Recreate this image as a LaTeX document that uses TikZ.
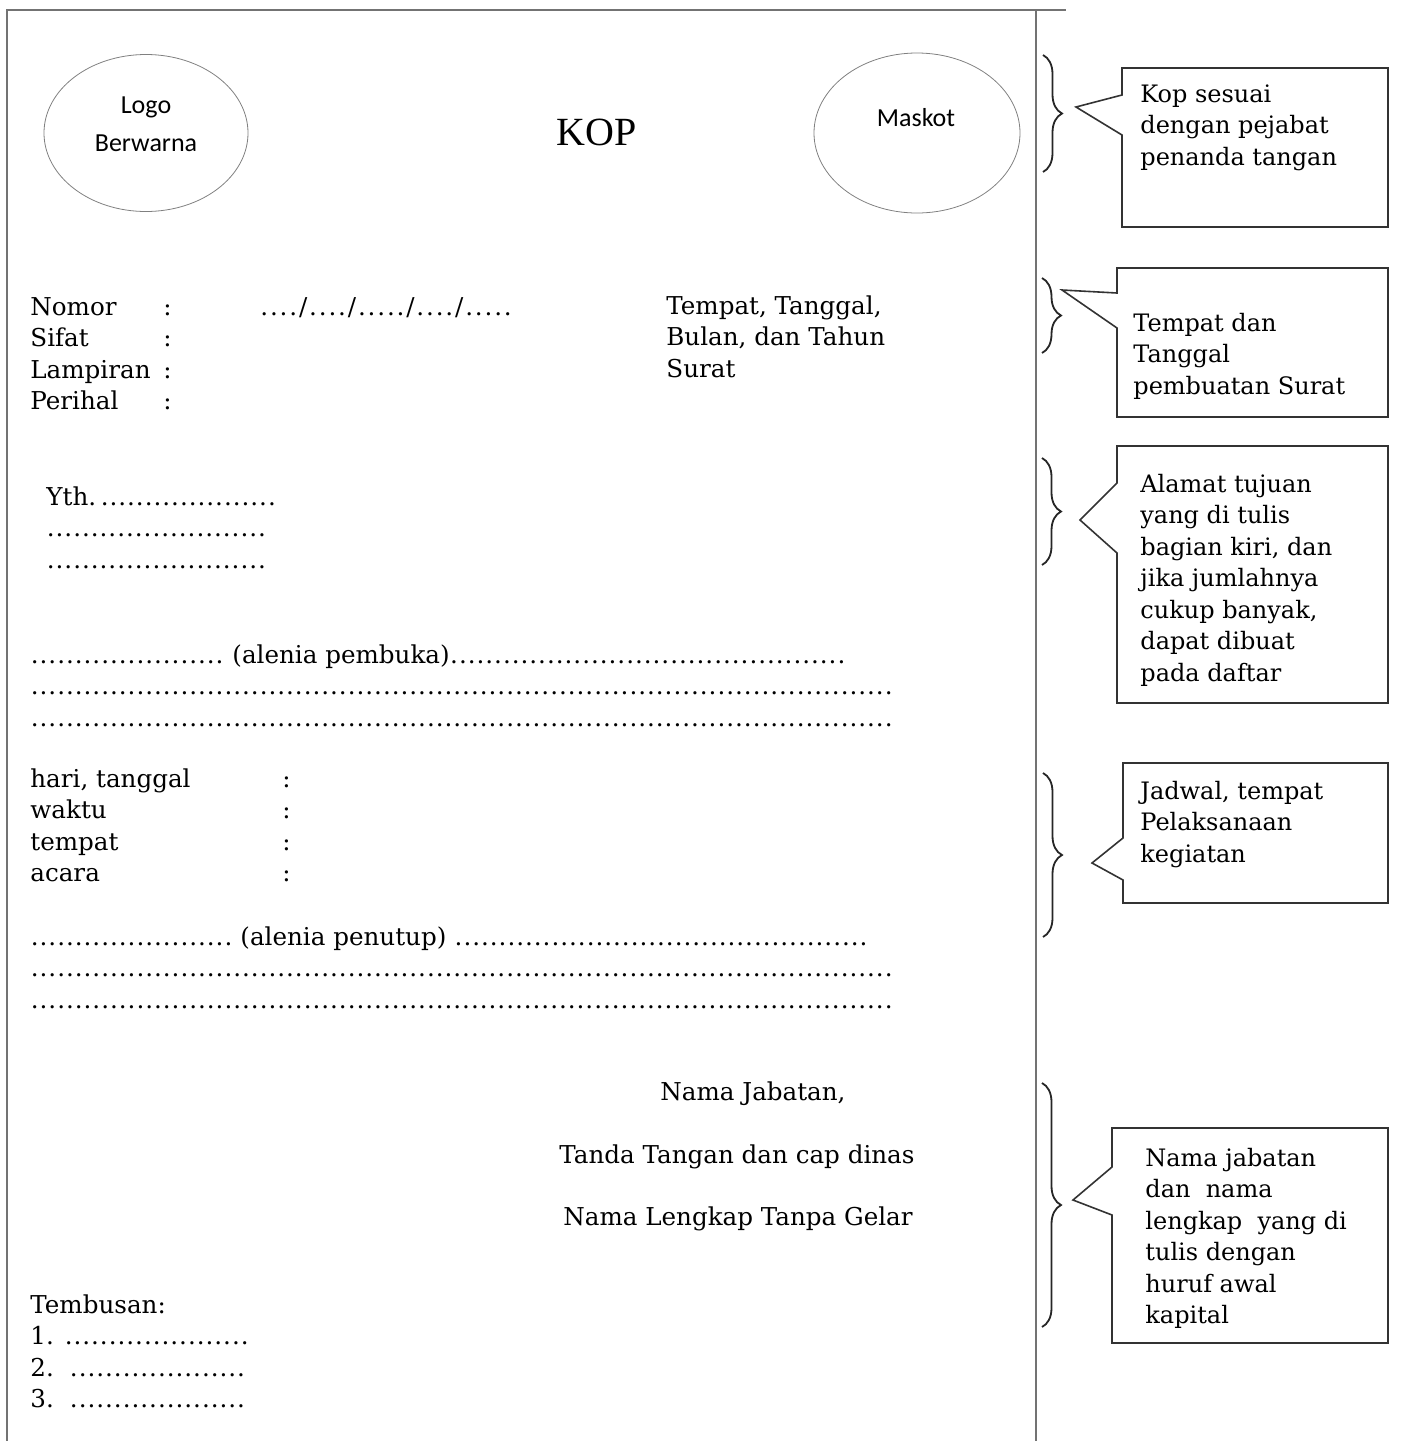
\documentclass[tikz,border=0pt]{standalone}
\usepackage{fontspec}
\setmainfont{DejaVu Serif}
\newfontfamily\kopfont{Liberation Serif}
\newfontfamily\logofont{Carlito}
\usetikzlibrary{shapes.geometric,decorations.pathreplacing}

\newcommand{\isi}{\fontsize{12.3}{15.75}\selectfont}
\newcommand{\isiket}{\fontsize{12}{15.75}\selectfont}
\newcommand{\titik}[1]{\hbox to #1{\leaders\hbox to 4.4pt{\hss.\hss}\hfill}}

\begin{document}
\begin{tikzpicture}[
    x=0.5pt, y=-0.5pt,
    halaman/.style={draw=black!55, line width=0.6pt},
    oval/.style={ellipse, draw=black!50, line width=0.4pt, inner sep=0pt},
    logoteks/.style={font=\logofont\fontsize{13}{19}\selectfont, inner sep=0pt, anchor=base},
    kop/.style={font=\kopfont\fontsize{20}{24}\selectfont, inner sep=0pt, anchor=base},
    blok/.style={font=\isi, align=left, inner sep=0pt, anchor=north west},
    baris/.style={font=\isi, inner sep=0pt, anchor=base},
    keterangan/.style={font=\isiket, align=left, inner sep=0pt, anchor=north west},
    balon/.style={draw=black!80, line width=0.8pt},
    kurung/.style={draw=black!85, line width=0.9pt, decorate, decoration={brace, amplitude=9.5pt}}
]
\useasboundingbox (0,0) rectangle (1401,1441);

% Page frame
\draw[halaman] (7,1441) -- (7,10) -- (1066,10);
\draw[halaman] (1036,10) -- (1036,1441);

% Kop
\node[oval, minimum width=102pt, minimum height=78.5pt] (logo) at (146,133) {};
\node[logoteks] (logo_atas) at (146,113) {Logo};
\node[logoteks] (logo_bawah) at (146,151) {Berwarna};
\node[kop] (kop) at (597,145) {KOP};
\node[oval, minimum width=103pt, minimum height=80pt] (maskot) at (917,133) {};
\node[logoteks] (maskot_teks) at (916,126) {Maskot};

% Nomor, Sifat, Lampiran, Perihal
\node[blok] (nomor) at (30,293) {\strut Nomor\\Sifat\\Lampiran\\Perihal};
\node[blok] (nomor_titik2) at (163,293) {\strut:\\:\\:\\:};
\node[blok] (nomor_isi) at (260,293) {\strut\addfontfeature{LetterSpace=7.5}..../..../...../..../.....};
\node[blok] (tanggal) at (666,292) {\strut Tempat, Tanggal,\\Bulan, dan Tahun\\Surat};

% Yth
\node[blok] (yth) at (46,483) {\strut Yth.\,\titik{92pt}\\\titik{114pt}\\\titik{114pt}};

% Alenia pembuka
\node[blok] (pembuka) at (30,641) {\strut\titik{101pt}(alenia pembuka)\titik{198pt}\\\titik{435pt}\\\titik{435pt}};

% Jadwal
\node[blok] (jadwal) at (30,765) {\strut hari, tanggal\\waktu\\tempat\\acara};
\node[blok] (jadwal_titik2) at (282,765) {\strut:\\:\\:\\:};

% Alenia penutup
\node[blok] (penutup) at (30,923) {\strut\titik{105pt}(alenia penutup) \titik{207pt}\\\titik{435pt}\\\titik{435pt}};

% Penanda tangan
\node[baris] (jabatan) at (753,1100) {Nama Jabatan,};
\node[baris] (ttd) at (737,1163) {Tanda Tangan dan cap dinas};
\node[baris] (nama) at (738,1225) {Nama Lengkap Tanpa Gelar};

% Tembusan
\node[blok] (tembusan) at (30,1291) {\strut Tembusan:\\1. \titik{94pt}\\2.\ \ \titik{90pt}\\3.\ \ \titik{90pt}};

% Braces
\coordinate (kurung1_a) at (1043,55);
\coordinate (kurung1_b) at (1043,172);
\coordinate (kurung2_a) at (1042,278);
\coordinate (kurung2_b) at (1042,353);
\coordinate (kurung3_a) at (1042,458);
\coordinate (kurung3_b) at (1042,565);
\coordinate (kurung4_a) at (1043,773);
\coordinate (kurung4_b) at (1043,937);
\coordinate (kurung5_a) at (1042,1083);
\coordinate (kurung5_b) at (1042,1327);
\draw[kurung] (kurung1_a) -- (kurung1_b);
\draw[kurung] (kurung2_a) -- (kurung2_b);
\draw[kurung] (kurung3_a) -- (kurung3_b);
\draw[kurung] (kurung4_a) -- (kurung4_b);
\draw[kurung] (kurung5_a) -- (kurung5_b);

% Callouts
\coordinate (ujung1) at (1076,107);
\coordinate (ujung2) at (1062,290);
\coordinate (ujung3) at (1080,520);
\coordinate (ujung4) at (1092,863);
\coordinate (ujung5) at (1073,1200);
\draw[balon] (1122,68) -- (1388,68) -- (1388,227) -- (1122,227) -- (1122,135) -- (ujung1) -- (1122,95) -- cycle;
\draw[balon] (1117,268) -- (1388,268) -- (1388,417) -- (1117,417) -- (1117,328) -- (ujung2) -- (1117,293) -- cycle;
\draw[balon] (1117,446) -- (1388,446) -- (1388,703) -- (1117,703) -- (1117,553) -- (ujung3) -- (1117,483) -- cycle;
\draw[balon] (1123,763) -- (1388,763) -- (1388,903) -- (1123,903) -- (1123,880) -- (ujung4) -- (1123,838) -- cycle;
\draw[balon] (1112,1128) -- (1388,1128) -- (1388,1343) -- (1112,1343) -- (1112,1215) -- (ujung5) -- (1112,1167) -- cycle;

\node[keterangan] (ket_kop) at (1140,80) {\strut Kop sesuai\\dengan pejabat\\penanda tangan};
\node[keterangan] (ket_tanggal) at (1133,309) {\strut Tempat dan\\Tanggal\\pembuatan Surat};
\node[keterangan] (ket_alamat) at (1140,470) {\strut Alamat tujuan\\yang di tulis\\bagian kiri, dan\\jika jumlahnya\\cukup banyak,\\dapat dibuat\\pada daftar};
\node[keterangan] (ket_jadwal) at (1140,777) {\strut Jadwal, tempat\\Pelaksanaan\\kegiatan};
\node[keterangan] (ket_nama) at (1145,1144) {\strut Nama jabatan\\dan\ \ nama\\lengkap\ \ yang di\\tulis dengan\\huruf awal\\kapital};

\end{tikzpicture}
\end{document}
